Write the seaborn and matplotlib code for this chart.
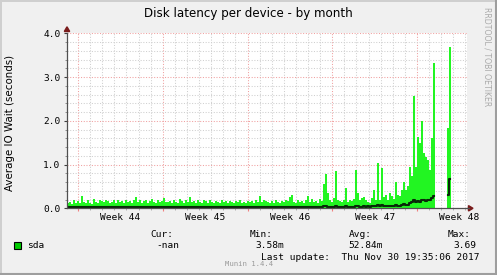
import numpy as np
import pandas as pd
import matplotlib
matplotlib.use("Agg")
import matplotlib.pyplot as plt
import seaborn as sns
from matplotlib.patches import Rectangle, Polygon
from matplotlib.lines import Line2D

# ---------------- data ----------------
title = "Disk latency per device - by month"
ylabel = "Average IO Wait (seconds)"
week_labels = ["Week 44", "Week 45", "Week 46", "Week 47", "Week 48"]
series_name = "sda"
stat_headers = ["Cur:", "Min:", "Avg:", "Max:"]
stat_values = ["-nan", "3.58m", "52.84m", "3.69"]
last_update = "Last update:  Thu Nov 30 19:35:06 2017"
footer = "Munin 1.4.4"
side_text = "RRDTOOL / TOBI OETIKER"
nan = float("nan")

# max values per sample (seconds), oldest first
max_part1 = [0.12, 0.15, 0.10, 0.19, 0.13, 0.16, 0.11, 0.29, 0.14, 0.12, 0.18, 0.13, 0.10, 0.21, 0.15, 0.12, 0.19, 0.17, 0.14, 0.20,
             0.16, 0.13, 0.15, 0.19, 0.12, 0.18, 0.14, 0.16, 0.12, 0.20, 0.15, 0.17, 0.13, 0.19, 0.25, 0.14, 0.18, 0.12, 0.16, 0.20,
             0.13, 0.17, 0.22, 0.15, 0.12, 0.18, 0.14, 0.16, 0.24, 0.15]
max_part2 = [0.14, 0.17, 0.12, 0.19, 0.15, 0.13, 0.21, 0.16, 0.12, 0.18, 0.15, 0.25, 0.14, 0.17, 0.12, 0.20, 0.15, 0.13, 0.18, 0.16,
             0.12, 0.19, 0.14, 0.13, 0.17, 0.15, 0.12, 0.18, 0.14, 0.16, 0.13, 0.17, 0.15, 0.12, 0.16, 0.14, 0.18, 0.13, 0.15, 0.12,
             0.17, 0.14, 0.16, 0.13, 0.19, 0.15, 0.27, 0.14, 0.20, 0.16]
max_part3 = [0.14, 0.12, 0.16, 0.13, 0.18, 0.15, 0.12, 0.17, 0.14, 0.20, 0.16, 0.25, 0.30, 0.15, 0.13, 0.18, 0.14, 0.16, 0.12, 0.19,
             0.28, 0.15, 0.22, 0.14, 0.17, 0.13, 0.21, 0.16, 0.56, 0.78, 0.34, 0.20, 0.15, 0.24, 0.85, 0.19, 0.16, 0.14, 0.18, 0.47,
             0.15, 0.20, 0.17, 0.22, 0.88, 0.36, 0.19, 0.23, 0.25, 0.20]
max_part4 = [0.15, 0.12, 0.23, 0.42, 0.18, 1.03, 0.20, 0.92, 0.25, 0.30, 0.20, 0.34, 0.28, 0.22, 0.61, 0.30, 0.27, 0.42, 0.61, 0.42,
             0.50, 0.95, 0.73, 2.57, 0.95, 1.64, 1.49, 2.00, 1.26, 1.18, 1.10, 0.88, 1.60, 3.32,
             nan, nan, nan, nan, nan, nan,
             1.83, 3.69,
             nan, nan, nan, nan, nan, nan, nan, nan]

avg_part1 = [0.03, 0.03, 0.02, 0.03, 0.03, 0.03, 0.02, 0.04, 0.03, 0.03, 0.03, 0.03, 0.02, 0.03, 0.03, 0.03, 0.03, 0.03, 0.03, 0.03,
             0.03, 0.02, 0.03, 0.03, 0.02, 0.03, 0.03, 0.03, 0.02, 0.03, 0.03, 0.03, 0.03, 0.03, 0.04, 0.03, 0.03, 0.02, 0.03, 0.03,
             0.03, 0.03, 0.03, 0.03, 0.02, 0.03, 0.03, 0.03, 0.04, 0.03]
avg_part2 = [0.03, 0.03, 0.02, 0.03, 0.03, 0.03, 0.03, 0.03, 0.02, 0.03, 0.03, 0.04, 0.03, 0.03, 0.02, 0.03, 0.03, 0.03, 0.03, 0.03,
             0.02, 0.03, 0.03, 0.03, 0.03, 0.03, 0.02, 0.03, 0.03, 0.03, 0.03, 0.03, 0.03, 0.02, 0.03, 0.03, 0.03, 0.03, 0.03, 0.02,
             0.03, 0.03, 0.03, 0.03, 0.03, 0.03, 0.04, 0.03, 0.03, 0.03]
avg_part3 = [0.03, 0.03, 0.03, 0.03, 0.03, 0.03, 0.02, 0.03, 0.03, 0.03, 0.03, 0.04, 0.04, 0.03, 0.03, 0.03, 0.03, 0.03, 0.03, 0.03,
             0.04, 0.03, 0.03, 0.03, 0.03, 0.03, 0.03, 0.03, 0.05, 0.06, 0.04, 0.03, 0.03, 0.04, 0.06, 0.04, 0.03, 0.03, 0.03, 0.05,
             0.04, 0.04, 0.04, 0.04, 0.06, 0.05, 0.04, 0.04, 0.05, 0.04]
avg_part4 = [0.05, 0.04, 0.05, 0.06, 0.05, 0.08, 0.05, 0.07, 0.05, 0.06, 0.05, 0.06, 0.06, 0.05, 0.08, 0.06, 0.06, 0.07, 0.09, 0.08,
             0.08, 0.12, 0.15, 0.19, 0.15, 0.16, 0.14, 0.19, 0.18, 0.17, 0.19, 0.20, 0.24, 0.27,
             nan, nan, nan, nan, nan, nan,
             0.30, 0.67,
             nan, nan, nan, nan, nan, nan, nan, nan]

max_vals = max_part1 + max_part2 + max_part3 + max_part4
avg_vals = avg_part1 + avg_part2 + avg_part3 + avg_part4

# time axis: days since Monday 2017-10-30 (start of week 44)
t_start = -0.91
t_end = 32.13
week_starts = [0, 7, 14, 21, 28]

# ---------------- layout helpers ----------------
W, H = 497, 275
def fx(px): return px / W
def fy(py): return 1 - py / H

BACK = "#f0f0f0"
GREEN = "#22f522"
AVG_COLOR = "#082808"
MONO = "DejaVu Sans Mono"

fig = plt.figure(figsize=(W / 100, H / 100), dpi=100)
fig.patch.set_facecolor(BACK)
ax = fig.add_axes([fx(67), fy(208.3), 400 / W, 175 / H])
ax.set_facecolor("white")

n = len(max_vals)
step = (t_end - t_start) / n
t = [t_start + (i + 0.5) * step for i in range(n)]
df = pd.DataFrame({"t": t, "max": max_vals, "avg": avg_vals})
df["seg"] = df["max"].isna().cumsum()

bars = df.dropna(subset=["max"])
sns.barplot(data=bars, x="t", y="max", native_scale=True, errorbar=None,
            width=1.0, color=GREEN, saturation=1, linewidth=0, ax=ax, zorder=2)
for p in ax.patches:
    p.set_antialiased(False)

for _, seg in df.dropna(subset=["avg"]).groupby("seg"):
    sns.lineplot(data=seg, x="t", y="avg", color=AVG_COLOR, linewidth=1.5,
                 drawstyle="steps-mid", errorbar=None, ax=ax, zorder=3)

ax.set_xlim(t_start, t_end)
ax.set_ylim(0, 4.0)
ax.set_xlabel("")
ax.set_ylabel("")

# grid
ax.set_xticks(week_starts)
ax.set_xticks(list(range(0, 33)), minor=True)
ax.set_yticks([0, 1, 2, 3, 4])
ax.set_yticks([k / 5 for k in range(0, 21)], minor=True)
ax.set_axisbelow(True)
ax.grid(which="major", color="#f0a0a0", linestyle=(0, (1, 1.6)), linewidth=0.75)
ax.grid(which="minor", color="#cfcfcf", linestyle=(0, (1, 1.6)), linewidth=0.75)

ax.tick_params(axis="x", which="major", direction="out", length=2.2, width=0.8,
               color="#f08080", labelbottom=False)
ax.tick_params(axis="x", which="minor", direction="out", length=1.5, width=0.7,
               color="#b0b0b0")
ax.tick_params(axis="y", which="major", direction="out", length=2.2, width=0.8,
               color="#404040", pad=2.5, labelsize=6.8)
ax.tick_params(axis="y", which="minor", direction="out", length=1.2, width=0.6,
               color="#808080")
ax.set_yticklabels([f"{v:.1f}" for v in [0, 1, 2, 3, 4]], fontfamily=MONO)

for s in ["top", "right"]:
    ax.spines[s].set_visible(False)
for s in ["left", "bottom"]:
    ax.spines[s].set_color("#505050")
    ax.spines[s].set_linewidth(0.9)
    ax.spines[s].set_zorder(4)

# week labels
for k, lab in enumerate(week_labels):
    ax.text(week_starts[k] + 3.5, -0.05, lab, transform=ax.get_xaxis_transform(),
            ha="center", va="center", fontsize=6.8, fontfamily=MONO, color="black")

# axis arrows
fig.add_artist(Line2D([fx(467), fx(469)], [fy(208.3), fy(208.3)], color="#505050", lw=0.9,
                      transform=fig.transFigure))
fig.add_artist(Polygon([[fx(468.5), fy(205.6)], [fx(468.5), fy(211.0)], [fx(473), fy(208.3)]],
                       closed=True, transform=fig.transFigure, color="#7a1c1c"))
fig.add_artist(Polygon([[fx(64.3), fy(31.5)], [fx(69.7), fy(31.5)], [fx(67), fy(26.8)]],
                       closed=True, transform=fig.transFigure, color="#7a1c1c"))

# title, axis label, side text
fig.text(0.5, fy(14), title, ha="center", va="center", fontsize=8.6,
         fontfamily="DejaVu Sans", color="black")
fig.text(fx(10.5), fy(123), ylabel, ha="center", va="center", rotation=90,
         fontsize=7.4, fontfamily="DejaVu Sans", color="black")
fig.text(fx(487.5), fy(57), side_text, ha="center", va="center", rotation=270,
         fontsize=5.6, fontfamily="DejaVu Sans", color="#aaaaaa")

# legend
fig.add_artist(Rectangle((fx(14), fy(248.5)), 6.5 / W, 6.5 / H, transform=fig.transFigure,
                         facecolor="#00cc00", edgecolor="black", linewidth=0.8))
fig.text(fx(27), fy(246), series_name, ha="left", va="center", fontsize=6.8,
         fontfamily=MONO)
head_x = [150, 250, 349, 448]
val_x = [156, 255, 348, 453]
for hx, hv, vx, vv in zip(head_x, stat_headers, val_x, stat_values):
    fig.text(fx(hx), fy(234.5), hv, ha="left", va="center", fontsize=6.8, fontfamily=MONO)
    fig.text(fx(vx), fy(246), vv, ha="left", va="center", fontsize=6.8, fontfamily=MONO)
fig.text(fx(261), fy(257.5), last_update, ha="left", va="center", fontsize=6.8,
         fontfamily=MONO)
fig.text(fx(225), fy(264.5), footer, ha="left", va="center", fontsize=5.2,
         fontfamily=MONO, color="#999999")

# 3D frame
fig.add_artist(Line2D([0, 1], [fy(0.5), fy(0.5)], color="#cfcfcf", lw=1.4, transform=fig.transFigure))
fig.add_artist(Line2D([fx(0.5), fx(0.5)], [0, 1], color="#cfcfcf", lw=1.4, transform=fig.transFigure))
fig.add_artist(Line2D([0, 1], [fy(274), fy(274)], color="#9e9e9e", lw=1.5, transform=fig.transFigure))
fig.add_artist(Line2D([fx(496), fx(496)], [0, 1], color="#9e9e9e", lw=1.5, transform=fig.transFigure))

fig.savefig("out.png", dpi=100, facecolor=BACK)
